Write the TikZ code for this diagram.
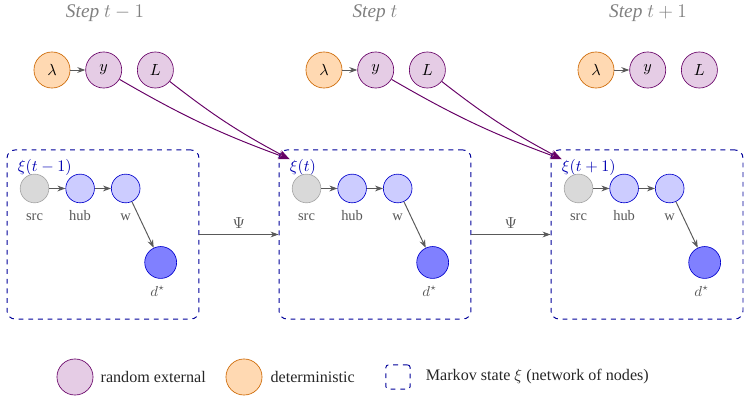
\documentclass[tikz,border=0pt]{standalone}
\usepackage{fontspec}
\setmainfont{Liberation Serif}
\usetikzlibrary{arrows.meta,positioning,calc}

\begin{document}
\begin{tikzpicture}[x=0.621pt,y=-0.621pt,>={Stealth[length=5pt,width=3.6pt]},
 extnode/.style={circle,draw=violet!80!black,fill=violet!20,minimum size=22.4pt,inner sep=0pt},
 detnode/.style={circle,draw=orange!80!black,fill=orange!30,minimum size=22.4pt,inner sep=0pt},
 srcnode/.style={circle,draw=black!35,fill=black!15,minimum size=17.8pt,inner sep=0pt},
 netnode/.style={circle,draw=blue!80!black,fill=blue!20,minimum size=17.8pt,inner sep=0pt},
 dstnode/.style={circle,draw=blue!80!black,fill=blue!50,minimum size=19.8pt,inner sep=0pt},
 statebox/.style={draw=blue!60!black,dashed,semithick,rounded corners=5pt,minimum width=119.2pt,minimum height=105pt},
 steplab/.style={font=\large\itshape,text=black!50},
 lab/.style={font=\small,text=black!65,anchor=base},
 xilab/.style={text=blue!70!black,anchor=base west,inner sep=0pt},
 flow/.style={->,draw=black!65,semithick},
 feed/.style={-{Stealth[length=7pt,width=5pt]},draw=violet!80!black,semithick}]
\useasboundingbox (0,0) rectangle (750,402);
% step labels
\node[steplab] (stepA) at (105,13) {Step $t-1$};
\node[steplab] (stepB) at (375,13) {Step $t$};
\node[steplab] (stepC) at (648,13) {Step $t+1$};
% external inputs
\node[detnode] (lamA) at (52,70) {$\lambda$};
\node[extnode,right=9.3pt of lamA] (yA) {$y$};
\node[extnode,right=9.3pt of yA] (LA) {$L$};
\node[detnode] (lamB) at (324,70) {$\lambda$};
\node[extnode,right=9.3pt of lamB] (yB) {$y$};
\node[extnode,right=9.3pt of yB] (LB) {$L$};
\node[detnode] (lamC) at (596,70) {$\lambda$};
\node[extnode,right=9.3pt of lamC] (yC) {$y$};
\node[extnode,right=9.3pt of yC] (LC) {$L$};
\draw[flow] (lamA)--(yA);
\draw[flow] (lamB)--(yB);
\draw[flow] (lamC)--(yC);
% Markov states
\node[statebox] (boxA) at (103,234.5) {};
\node[statebox] (boxB) at (375,234.5) {};
\node[statebox] (boxC) at (647,234.5) {};
\node[xilab] (xiA) at ($(boxA.north west)+(11,22)$) {$\xi(t-1)$};
\node[xilab] (xiB) at ($(boxB.north west)+(11,22)$) {$\xi(t)$};
\node[xilab] (xiC) at ($(boxC.north west)+(11,22)$) {$\xi(t+1)$};
% network inside each state
\node[srcnode] (srcA) at ($(boxA.north west)+(28,39)$) {};
\node[netnode,right=10.1pt of srcA] (hubA) {};
\node[netnode,right=10.1pt of hubA] (wA) {};
\node[dstnode] (dA) at ($(wA)+(35,74)$) {};
\node[srcnode] (srcB) at ($(boxB.north west)+(28,39)$) {};
\node[netnode,right=10.1pt of srcB] (hubB) {};
\node[netnode,right=10.1pt of hubB] (wB) {};
\node[dstnode] (dB) at ($(wB)+(35,74)$) {};
\node[srcnode] (srcC) at ($(boxC.north west)+(28,39)$) {};
\node[netnode,right=10.1pt of srcC] (hubC) {};
\node[netnode,right=10.1pt of hubC] (wC) {};
\node[dstnode] (dC) at ($(wC)+(35,74)$) {};
\node[lab] (srcAl) at ($(srcA)+(0,32)$) {src};
\node[lab] (hubAl) at ($(hubA)+(0,32)$) {hub};
\node[lab] (wAl) at ($(wA)+(0,32)$) {w};
\node[lab] (dAl) at ($(dA)+(-3,34)$) {$d^\star$};
\node[lab] (srcBl) at ($(srcB)+(0,32)$) {src};
\node[lab] (hubBl) at ($(hubB)+(0,32)$) {hub};
\node[lab] (wBl) at ($(wB)+(0,32)$) {w};
\node[lab] (dBl) at ($(dB)+(-3,34)$) {$d^\star$};
\node[lab] (srcCl) at ($(srcC)+(0,32)$) {src};
\node[lab] (hubCl) at ($(hubC)+(0,32)$) {hub};
\node[lab] (wCl) at ($(wC)+(0,32)$) {w};
\node[lab] (dCl) at ($(dC)+(-3,34)$) {$d^\star$};
\draw[flow] (srcA)--(hubA);
\draw[flow] (hubA)--(wA);
\draw[flow] (wA)--(dA);
\draw[flow] (srcB)--(hubB);
\draw[flow] (hubB)--(wB);
\draw[flow] (wB)--(dB);
\draw[flow] (srcC)--(hubC);
\draw[flow] (hubC)--(wC);
\draw[flow] (wC)--(dC);
% transitions
\draw[flow] (boxA.east) -- node[above,text=black!65] (psiA) {$\Psi$} (boxB.west);
\draw[flow] (boxB.east) -- node[above,text=black!65] (psiB) {$\Psi$} (boxC.west);
% inputs feed the next state
\draw[feed] (yA) to[bend right=5] (xiB.north west);
\draw[feed] (LA) to[bend right=5] (xiB.north west);
\draw[feed] (yB) to[bend right=5] (xiC.north west);
\draw[feed] (LB) to[bend right=5] (xiC.north west);
% legend
\node[extnode] (legExt) at (75,377) {};
\node[right=1pt of legExt,text=black!85] (legExtT) {random external};
\node[detnode] (legDet) at (244,377) {};
\node[right=1.6pt of legDet,text=black!85] (legDetT) {deterministic};
\node[draw=blue!60!black,dashed,semithick,rounded corners=1.5pt,minimum size=15pt] (legState) at (398,377) {};
\node[right=6pt of legState,text=black!85] (legStateT) {Markov state $\xi$ (network of nodes)};
\end{tikzpicture}
\end{document}
